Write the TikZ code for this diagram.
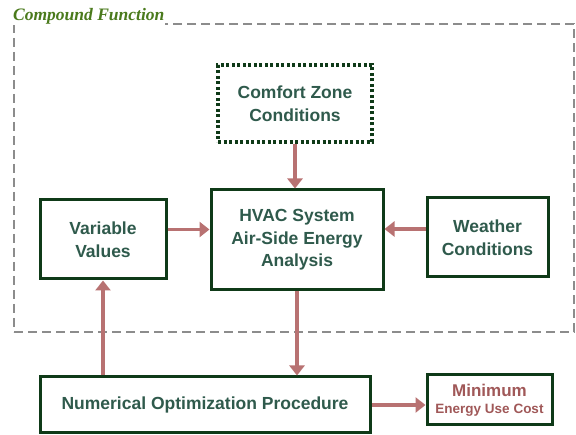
\documentclass[tikz,border=0pt]{standalone}
\usepackage{fontspec}
\setmainfont{Liberation Sans}
\newfontfamily\titlefont{Liberation Serif}
\usetikzlibrary{arrows.meta}

\definecolor{boxgreen}{HTML}{0F3A18}
\definecolor{textgreen}{HTML}{2F5A4C}
\definecolor{arrowred}{HTML}{B87272}
\definecolor{costred}{HTML}{A05858}
\definecolor{titlegreen}{HTML}{4A7A1C}
\definecolor{framegray}{HTML}{8C8C8C}

\begin{document}
\begin{tikzpicture}[x=1pt,y=-1pt,
    block/.style={shape=rectangle,draw=boxgreen,line width=3pt,fill=white,
        text=textgreen,font=\fontsize{17.5}{22.5}\selectfont\bfseries,align=center},
    goal/.style={block,dash pattern=on 3pt off 2.5pt,line width=3.5pt},
    flow/.style={draw=arrowred,line width=3.5pt,
        -{Triangle[width=15pt,length=10pt]}}]
    \useasboundingbox (0,0) rectangle (576,435);
    % compound function frame
    \node[draw=framegray,line width=1.8pt,dash pattern=on 9pt off 5pt,
        minimum width=560pt,minimum height=308pt] (compound) at (294,178) {};
    \node[anchor=south west,fill=white,inner sep=1pt,text=titlegreen,
        font=\titlefont\fontsize{17.5}{19}\selectfont\bfseries\itshape] (title) at (12,25) {Compound Function};
    % blocks
    \node[goal,minimum width=154pt,minimum height=77pt] (comfort) at (295,103.5) {Comfort Zone\\Conditions};
    \node[block,minimum width=172pt,minimum height=100pt] (hvac) at (297,240) {HVAC System\\Air-Side Energy\\Analysis};
    \node[block,minimum width=126pt,minimum height=79pt] (variables) at (103,239.5) {Variable\\Values};
    \node[block,minimum width=121pt,minimum height=79pt] (weather) at (487.5,237.5) {Weather\\Conditions};
    \node[block,minimum width=330pt,minimum height=56pt] (optimizer) at (205,405) {Numerical Optimization Procedure};
    \node[block,minimum width=125pt,minimum height=50pt,text=costred,
        font=\fontsize{17}{17}\selectfont\bfseries] (mincost) at (489.5,400)
        {Minimum\\{\fontsize{13.5}{15}\selectfont Energy Use Cost}};
    % connectors
    \coordinate (varout) at ([yshift=10pt]variables.east);
    \coordinate (weatherout) at ([yshift=8.5pt]weather.west);
    \path[flow] (comfort.south) -- (hvac.north -| comfort.south);
    \path[flow] (varout) -- (hvac.west |- varout);
    \path[flow] (weatherout) -- (hvac.east |- weatherout);
    \path[flow] (hvac.south) -- (optimizer.north -| hvac.south);
    \path[flow] (optimizer.north -| variables.south) -- (variables.south);
    \path[flow] (optimizer.east) -- (mincost.west |- optimizer.east);
\end{tikzpicture}
\end{document}
